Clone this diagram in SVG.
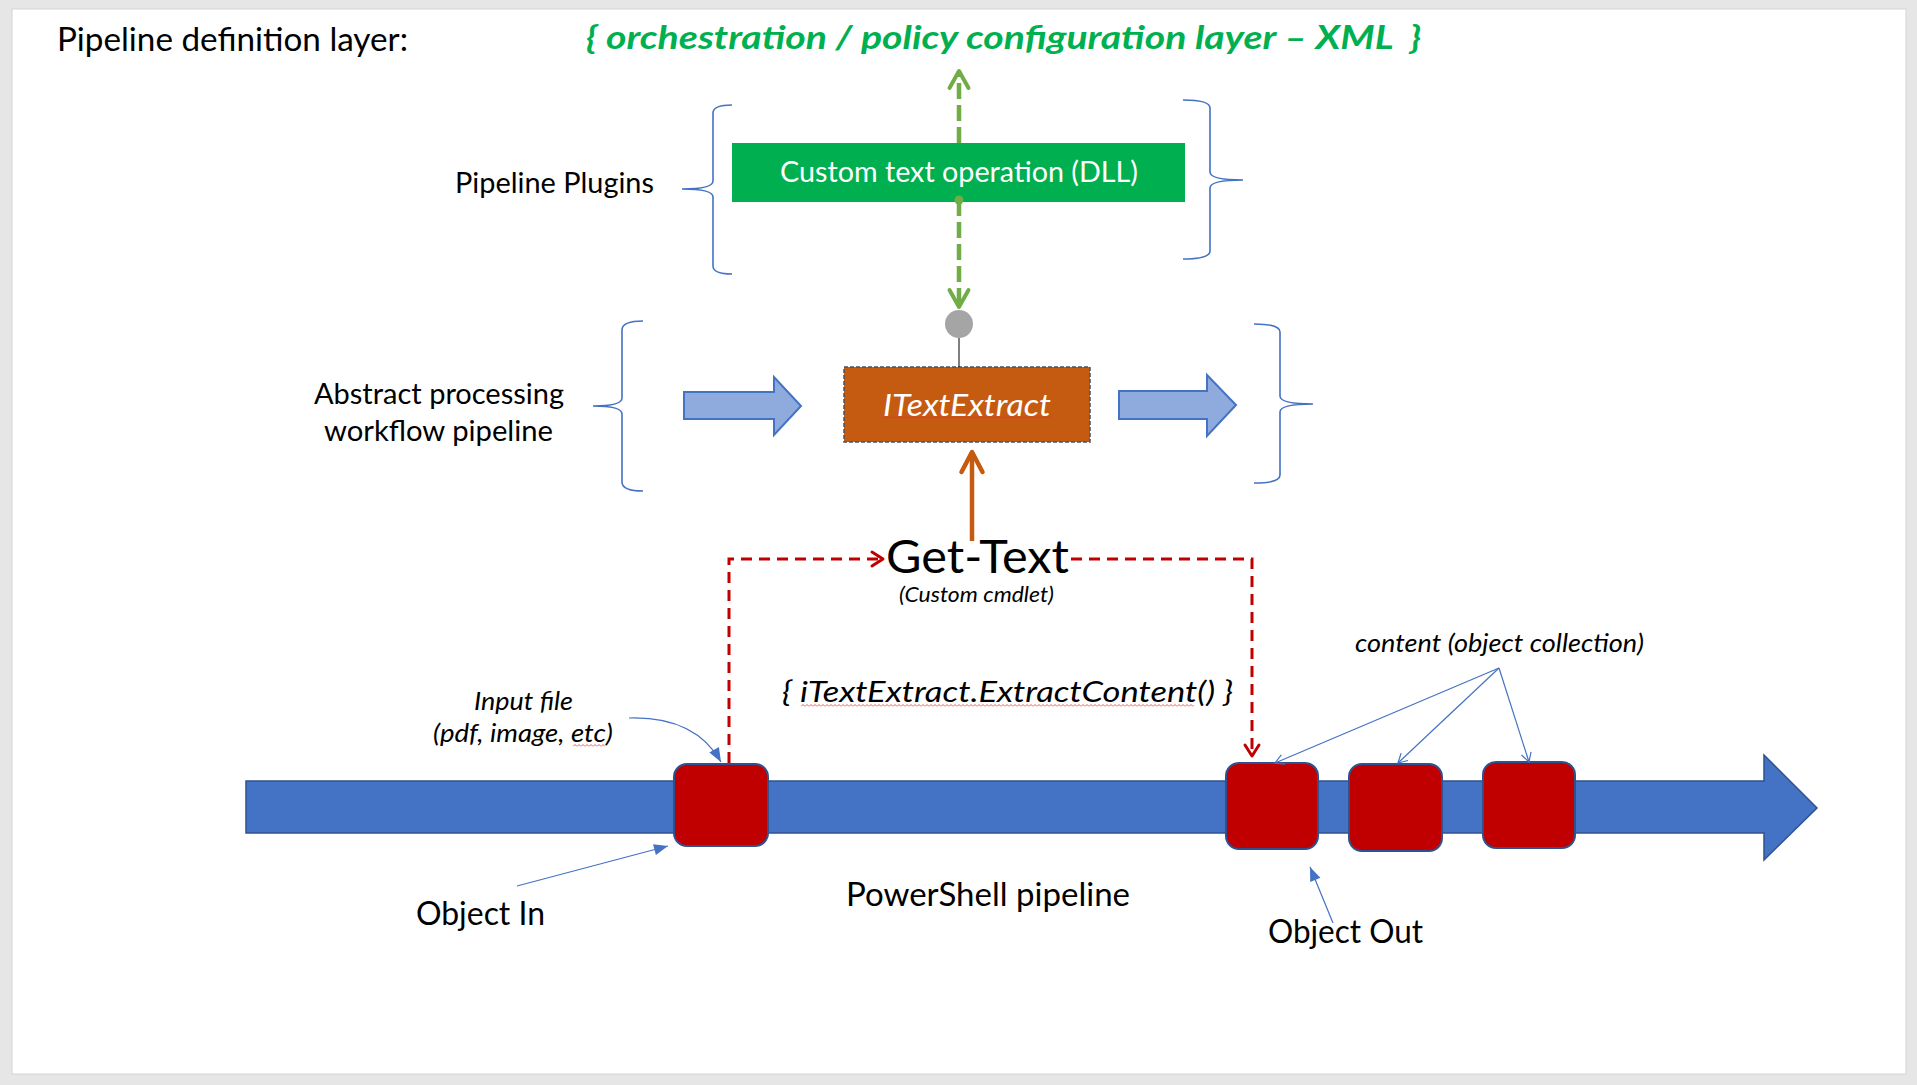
<svg xmlns="http://www.w3.org/2000/svg" width="1917" height="1085" viewBox="0 0 1917 1085">
<style>
text{font-family:Lato,"Open Sans","Liberation Sans",sans-serif;fill:#000;white-space:pre}
.it{font-style:italic}
.brace{fill:none;stroke:#4472C4;stroke-width:1.6}
.thin{fill:none;stroke:#4472C4;stroke-width:1.2}
.reddash{fill:none;stroke:#C00000;stroke-width:3;stroke-dasharray:11 7}
.greendash{fill:none;stroke:#70AD47;stroke-width:4.5;stroke-dasharray:16 6}
.box{fill:#C00000;stroke:#2F528F;stroke-width:2}
.blk{fill:#8FAADC;stroke:#4472C4;stroke-width:2}
</style>
<defs>
<marker id="chevG" viewBox="-24 -14 28 28" refX="0" refY="0" markerWidth="28" markerHeight="28" markerUnits="userSpaceOnUse" orient="auto">
<path d="M-17,-9.5 L0,0 L-17,9.5" fill="none" stroke="#70AD47" stroke-width="4" stroke-linecap="round" stroke-linejoin="round"/>
</marker>
<marker id="chevO" viewBox="-26 -14 30 28" refX="0" refY="0" markerWidth="30" markerHeight="28" markerUnits="userSpaceOnUse" orient="auto">
<path d="M-20,-10.5 L0,0 L-20,10.5" fill="none" stroke="#C55A11" stroke-width="4.5" stroke-linecap="round" stroke-linejoin="round"/>
</marker>
<marker id="chevR" viewBox="-16 -10 20 20" refX="0" refY="0" markerWidth="20" markerHeight="20" markerUnits="userSpaceOnUse" orient="auto">
<path d="M-11,-7 L0,0 L-11,7" fill="none" stroke="#C00000" stroke-width="3" stroke-linecap="round" stroke-linejoin="round"/>
</marker>
<marker id="triB" viewBox="-16 -8 18 16" refX="0" refY="0" markerWidth="18" markerHeight="16" markerUnits="userSpaceOnUse" orient="auto">
<path d="M-14,-5.5 L0,0 L-14,5.5 Z" fill="#4472C4"/>
</marker>
<marker id="openB" viewBox="-12 -7 14 14" refX="0" refY="0" markerWidth="14" markerHeight="14" markerUnits="userSpaceOnUse" orient="auto">
<path d="M-9,-5 L0,0 L-9,5" fill="none" stroke="#4472C4" stroke-width="1.2"/>
</marker>
<pattern id="wavy" width="4" height="3" patternUnits="userSpaceOnUse">
<path d="M0,2.5 L2,0.5 L4,2.5" fill="none" stroke="#E03030" stroke-width="0.8"/>
</pattern>
</defs>

<rect x="0" y="0" width="1917" height="1085" fill="#E6E6E6"/>
<rect x="12" y="9" width="1894" height="1065" fill="#FFFFFF" stroke="#D4D4D4" stroke-width="1"/>

<g id="title">
<text x="57" y="51" font-size="32" textLength="351" lengthAdjust="spacingAndGlyphs">Pipeline definition layer:</text>
</g>
<g id="orchestration">
<text x="586" y="49" font-size="32" font-weight="bold" class="it" style="fill:#00B050" textLength="835" lengthAdjust="spacingAndGlyphs">{ orchestration / policy configuration layer – XML  }</text>
</g>

<g id="plugins-label">
<text x="455" y="193" font-size="29" textLength="199" lengthAdjust="spacingAndGlyphs">Pipeline Plugins</text>
<path class="brace" d="M732,105 Q713,105 713,113 V181 Q713,189 682,189 Q713,189 713,197 V266 Q713,274 732,274"/>
<path class="brace" d="M1183,100 Q1210,100 1210,108 V172 Q1210,180 1243,180 Q1210,180 1210,188 V251 Q1210,259 1183,259"/>
</g>

<g id="custom-dll">
<rect x="732" y="143" width="453" height="59" fill="#00B050"/>
<text x="780" y="182" font-size="29" style="fill:#FFFFFF" textLength="358" lengthAdjust="spacingAndGlyphs">Custom text operation (DLL)</text>
</g>

<g id="abstract-label">
<text x="314" y="404" font-size="29" textLength="250" lengthAdjust="spacingAndGlyphs">Abstract processing</text>
<text x="324" y="441" font-size="29" textLength="229" lengthAdjust="spacingAndGlyphs">workflow pipeline</text>
<path class="brace" d="M643,321 Q622,321 622,330 V398 Q622,406 593,406 Q622,406 622,414 V482 Q622,491 643,491"/>
<path class="brace" d="M1254,324 Q1280,324 1280,332 V396 Q1280,404 1313,404 Q1280,404 1280,412 V475 Q1280,483 1254,483"/>
</g>

<g id="flow-arrows">
<path class="blk" d="M684,392 H774 V377 L801,406 L774,435 V419 H684 Z"/>
<path class="blk" d="M1119,391 H1207 V375 L1236,405 L1207,436 V419 H1119 Z"/>
</g>

<g id="itextextract">
<rect x="844" y="367" width="246" height="75" fill="#C55A11" stroke="#44546A" stroke-width="1.5" stroke-dasharray="4 2"/>
<text x="883" y="416" font-size="30" class="it" style="fill:#FFFFFF" textLength="168" lengthAdjust="spacingAndGlyphs">ITextExtract</text>
<rect x="0" y="0" width="168" height="3" fill="url(#wavy)" transform="translate(883,416)"/>
</g>

<g id="connector-point">
<circle cx="959" cy="324" r="14" fill="#A5A5A5"/>
</g>

<g id="get-text">
<text x="886" y="573" font-size="46" textLength="183" lengthAdjust="spacingAndGlyphs">Get-Text</text>
<text x="899" y="602" font-size="21" class="it" textLength="155" lengthAdjust="spacingAndGlyphs">(Custom cmdlet)</text>
</g>

<g id="extract-call">
<text x="782" y="702" font-size="29" class="it" textLength="451" lengthAdjust="spacingAndGlyphs">{ iTextExtract.ExtractContent() }</text>
<rect x="0" y="0" width="393" height="3" fill="url(#wavy)" transform="translate(801,704)"/>
</g>

<g id="powershell-pipeline">
<path d="M246,781 H1764 V755 L1817,808 L1764,860 V833 H246 Z" fill="#4472C4" stroke="#2F528F" stroke-width="1.5"/>
<text x="846" y="906" font-size="32" textLength="284" lengthAdjust="spacingAndGlyphs">PowerShell pipeline</text>
</g>

<g id="object-in">
<rect class="box" x="674" y="764" width="94" height="82" rx="13"/>
</g>
<g id="object-out-1">
<rect class="box" x="1226" y="763" width="92" height="86" rx="13"/>
</g>
<g id="object-out-2">
<rect class="box" x="1349" y="764" width="93" height="87" rx="13"/>
</g>
<g id="object-out-3">
<rect class="box" x="1483" y="762" width="92" height="86" rx="13"/>
</g>

<g id="labels">
<text x="474" y="710" font-size="25" class="it" textLength="99" lengthAdjust="spacingAndGlyphs">Input file</text>
<text x="433" y="742" font-size="25" class="it" textLength="180" lengthAdjust="spacingAndGlyphs">(pdf, image, etc)</text>
<rect x="0" y="0" width="32" height="3" fill="url(#wavy)" transform="translate(573,744)"/>
<text x="416" y="925" font-size="32" textLength="129" lengthAdjust="spacingAndGlyphs">Object In</text>
<text x="1268" y="943" font-size="32" textLength="155" lengthAdjust="spacingAndGlyphs">Object Out</text>
<text x="1355" y="652" font-size="25" class="it" textLength="289" lengthAdjust="spacingAndGlyphs">content (object collection)</text>
</g>

<g id="connectors">
<path class="greendash" d="M959,143 V71" marker-end="url(#chevG)"/>
<path class="greendash" d="M959,200 V307" marker-end="url(#chevG)"/>
<circle cx="959" cy="200" r="4.5" fill="#70AD47"/>
<line x1="959" y1="338" x2="959" y2="367" stroke="#000" stroke-width="1"/>
<path d="M972,541 V452" fill="none" stroke="#C55A11" stroke-width="4.5" marker-end="url(#chevO)"/>
<path class="reddash" d="M729,763 V559 H883" marker-end="url(#chevR)"/>
<path class="reddash" d="M1071,559 H1252 V756" marker-end="url(#chevR)"/>
<path class="thin" d="M629,718 Q695,716 721,762" marker-end="url(#triB)"/>
<path class="thin" d="M517,886 L668,846" marker-end="url(#triB)"/>
<path class="thin" d="M1333,923 L1310,867" marker-end="url(#triB)"/>
<path class="thin" d="M1499,668 L1275,763" marker-end="url(#openB)"/>
<path class="thin" d="M1499,668 L1398,763" marker-end="url(#openB)"/>
<path class="thin" d="M1499,668 L1529,762" marker-end="url(#openB)"/>
</g>
</svg>
